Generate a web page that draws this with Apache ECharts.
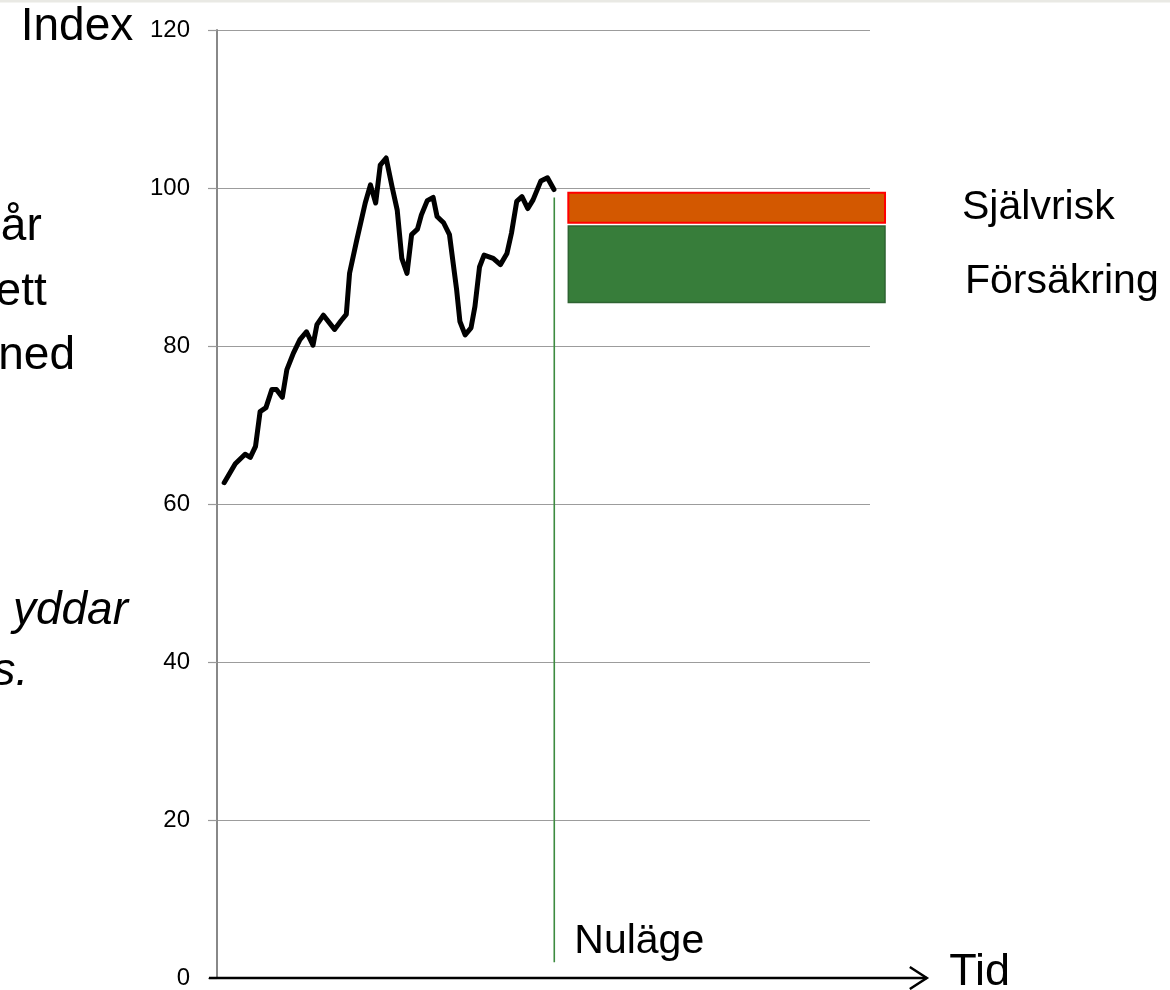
<!DOCTYPE html>
<html>
<head>
<meta charset="utf-8">
<script src="https://cdn.jsdelivr.net/npm/echarts@6/dist/echarts.min.js"></script>
<style>
html,body{margin:0;padding:0;background:#fff;}
#chart{width:1170px;height:990px;}
</style>
</head>
<body>
<div id="chart"></div>
<script>
// ---- data ----
const timeIdx = [1.1, 2.8, 4.3, 5.1, 5.9, 6.6, 7.5, 8.4, 9.1, 10.0, 10.7, 11.7, 12.7, 13.7, 14.7, 15.3, 16.3, 18.0, 19.0, 19.8, 20.3, 21.4, 22.7, 23.5, 24.3, 25.0, 25.9, 26.8, 27.6, 28.3, 29.1, 29.8, 30.7, 31.3, 32.2, 33.1, 33.7, 34.7, 35.6, 36.1, 36.7, 37.2, 38.0, 38.9, 39.5, 40.2, 40.9, 42.3, 43.4, 44.4, 45.1, 45.9, 46.7, 47.6, 48.4, 49.6, 50.6, 51.6];
const indexValues = [62.7, 65.1, 66.3, 65.9, 67.3, 71.7, 72.2, 74.5, 74.5, 73.5, 77.0, 79.1, 80.8, 81.8, 80.1, 82.7, 83.9, 82.1, 83.2, 84.0, 89.2, 93.4, 98.1, 100.4, 98.1, 102.9, 103.8, 100.2, 97.2, 91.1, 89.2, 94.1, 94.8, 96.6, 98.4, 98.8, 96.4, 95.6, 94.1, 90.9, 87.1, 83.1, 81.4, 82.3, 85.0, 90.0, 91.5, 91.1, 90.3, 91.7, 94.3, 98.3, 98.9, 97.4, 98.5, 100.9, 101.3, 99.8];

const bandNames = ['Självrisk', 'Försäkring'];
const bandLow = [95.6, 85.5];
const bandHigh = [99.4, 95.2];
const bandStart = 53.8;
const bandEnd = 102.3;
const bandLabelLevel = [97.5, 88.2];

const nowTime = 51.65;
const nowLow = 2.0;
const nowHigh = 98.8;
const nowLabel = 'Nuläge';

const yTicks = [0, 20, 40, 60, 80, 100, 120];
const xAxisStart = -1.23;
const xAxisEnd = 108.7;
const yAxisTitle = 'Index';
const xAxisTitle = 'Tid';

const sideText = [
  {text: 'år', right: 41.7, mid: 227.7, italic: false},
  {text: 'ett', right: 46.7, mid: 292.4, italic: false},
  {text: 'ned', right: 75, mid: 356.1, italic: false},
  {text: 'yddar', right: 128, mid: 611.1, italic: true},
  {text: 's.', right: 28.3, mid: 672.4, italic: true}
];

// ---- chart ----
const FF = '"Liberation Sans", Arial, Helvetica, sans-serif';
const chart = echarts.init(document.getElementById('chart'), null, {renderer: 'canvas'});

const bandFill = ['#d35800', '#377d3a'];
const bandStroke = ['#ff0000', '#2e6332'];
const bandStrokeW = [2, 1.5];

const graphics = [
  {type: 'rect', left: 0, top: 0, shape: {width: 1170, height: 2.5}, style: {fill: '#e9e9e4'}, silent: true},
  {type: 'text', x: 20.7, y: 27.7, style: {text: yAxisTitle, font: '46px ' + FF, fill: '#000', align: 'left', verticalAlign: 'middle'}},
  {type: 'text', x: 949.3, y: 972.7, style: {text: xAxisTitle, font: '45px ' + FF, fill: '#000', align: 'left', verticalAlign: 'middle'}}
];
sideText.forEach(function (s) {
  graphics.push({type: 'text', x: s.right, y: s.mid, style: {text: s.text, font: (s.italic ? 'italic ' : '') + '46px ' + FF, fill: '#000', align: 'right', verticalAlign: 'middle'}});
});

const option = {
  animation: false,
  backgroundColor: '#ffffff',
  grid: {left: 217, right: 300, top: 30, bottom: 12, containLabel: false},
  xAxis: {
    type: 'value', min: 0, max: 100,
    axisLine: {show: false}, axisTick: {show: false}, axisLabel: {show: false}, splitLine: {show: false}
  },
  yAxis: {
    type: 'value', min: yTicks[0], max: yTicks[yTicks.length - 1], interval: 20,
    axisLine: {show: true, lineStyle: {color: '#888888', width: 2}},
    axisTick: {show: true, length: 9, lineStyle: {color: '#999999', width: 1.2}},
    axisLabel: {fontSize: 24, color: '#000', margin: 27, fontFamily: FF},
    splitLine: {show: true, lineStyle: {color: '#9c9c9c', width: 1.2}}
  },
  graphic: graphics,
  series: [
    {
      type: 'custom',
      name: 'bands',
      clip: false,
      data: bandNames.map(function (n, i) { return [bandStart, bandEnd, bandLow[i], bandHigh[i], bandLabelLevel[i]]; }),
      renderItem: function (params, api) {
        const i = params.dataIndex;
        const p0 = api.coord([api.value(0), api.value(3)]);
        const p1 = api.coord([api.value(1), api.value(2)]);
        const ly = api.coord([api.value(1), api.value(4)]);
        return {
          type: 'group',
          children: [
            {type: 'rect', shape: {x: p0[0], y: p0[1], width: p1[0] - p0[0], height: p1[1] - p0[1]},
             style: {fill: bandFill[i], stroke: bandStroke[i], lineWidth: bandStrokeW[i]}},
            {type: 'text', x: p1[0] + 77 + (i === 1 ? 3 : 0), y: ly[1],
             style: {text: bandNames[i], font: '41px ' + FF, fill: '#000', align: 'left', verticalAlign: 'middle'}}
          ]
        };
      }
    },
    {
      type: 'custom',
      name: 'now',
      clip: false,
      data: [[nowTime, nowLow, nowHigh]],
      renderItem: function (params, api) {
        const a = api.coord([api.value(0), api.value(1)]);
        const b = api.coord([api.value(0), api.value(2)]);
        return {
          type: 'group',
          children: [
            {type: 'line', shape: {x1: a[0], y1: a[1], x2: b[0], y2: b[1]}, style: {stroke: '#3d8b40', lineWidth: 1.6}},
            {type: 'text', x: a[0] + 20, y: a[1] - 21, style: {text: nowLabel, font: '41px ' + FF, fill: '#000', align: 'left', verticalAlign: 'middle'}}
          ]
        };
      }
    },
    {
      type: 'line',
      name: 'Index',
      data: timeIdx.map(function (t, i) { return [t, indexValues[i]]; }),
      showSymbol: false,
      symbol: 'none',
      smooth: false,
      lineStyle: {color: '#000', width: 5, join: 'round', cap: 'round'},
      z: 5
    },
    {
      type: 'custom',
      name: 'xaxis',
      clip: false,
      data: [[xAxisStart, xAxisEnd, 0]],
      z: 6,
      renderItem: function (params, api) {
        const a = api.coord([api.value(0), api.value(2)]);
        const b = api.coord([api.value(1), api.value(2)]);
        return {
          type: 'group',
          children: [
            {type: 'line', shape: {x1: a[0], y1: a[1], x2: b[0], y2: b[1]}, style: {stroke: '#000', lineWidth: 2.5}},
            {type: 'polyline', shape: {points: [[b[0] - 17, b[1] - 11], [b[0], b[1]], [b[0] - 17, b[1] + 11]]}, style: {stroke: '#000', lineWidth: 2.5, fill: null}}
          ]
        };
      }
    }
  ]
};
chart.setOption(option);
</script>
</body>
</html>
